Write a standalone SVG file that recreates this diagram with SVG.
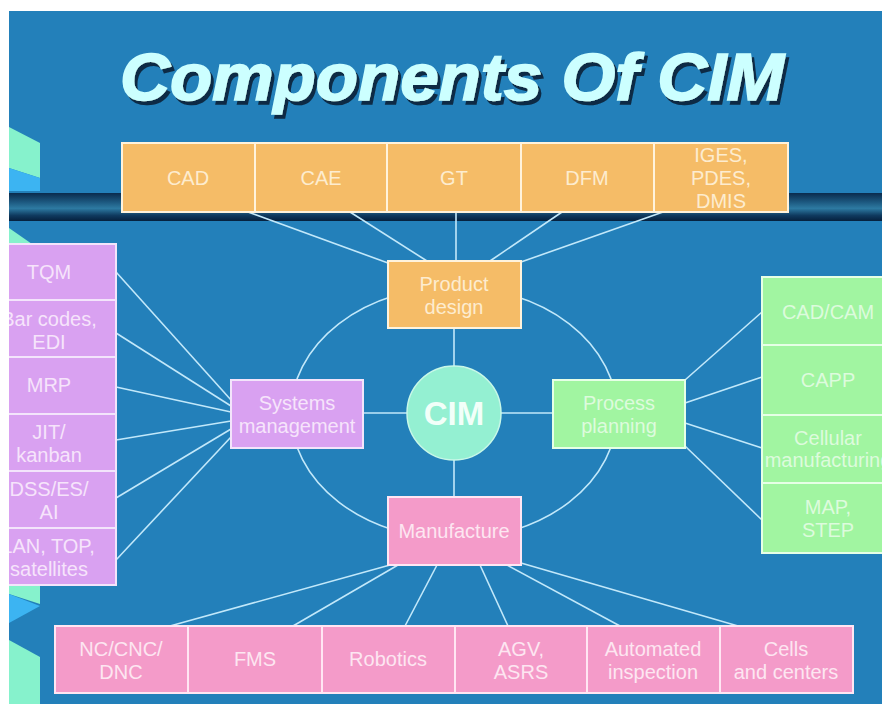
<svg xmlns="http://www.w3.org/2000/svg" width="882" height="704" viewBox="0 0 882 704">
<defs>
<linearGradient id="bar" x1="0" y1="0" x2="0" y2="1">
<stop offset="0" stop-color="#0a2b4d"/>
<stop offset="0.3" stop-color="#1b557c"/>
<stop offset="0.55" stop-color="#2d7aa2"/>
<stop offset="0.8" stop-color="#0f3a5f"/>
<stop offset="1" stop-color="#05203d"/>
</linearGradient>
<filter id="shadow" x="-5%" y="-20%" width="110%" height="150%">
<feDropShadow dx="3" dy="4" stdDeviation="0.6" flood-color="#0a2a45" flood-opacity="1"/>
</filter>
<style>
text{font-family:"Liberation Sans",Arial,sans-serif;font-size:20px;text-anchor:middle}
.title{font-size:66px;font-weight:bold;font-style:italic;fill:#ccffff;stroke:#ccffff;stroke-width:1.6;filter:url(#shadow)}
.cimt{font-size:33px;font-weight:bold;fill:#f2fff9}
.con{stroke:#c2e8fa;stroke-width:1.6;fill:none}
.or{fill:#f5bc67;stroke:#fff3dc;stroke-width:2}
.vi{fill:#d9a1f1;stroke:#f3e4fb;stroke-width:2}
.gr{fill:#a1f5a1;stroke:#e6ffe6;stroke-width:2}
.pk{fill:#f49bc9;stroke:#ffe6f3;stroke-width:2}
.tor{fill:#fdeccf}
.tvi{fill:#f6e4fb}
.tgr{fill:#ddfbdd}
.tpk{fill:#fde6f1}
.mint{fill:#86f2cc}
.lb{fill:#3cb4f2}
</style>
</defs>
<rect x="0" y="0" width="882" height="704" fill="#2380ba"/>
<g id="decor">
<polygon class="mint" points="9,127 40,143 40,178 9,168"/>
<polygon class="lb" points="9,168 40,178 40,191 9,191"/>
<polygon class="mint" points="9,228 32,244 9,244"/>
<polygon class="mint" points="9,585 40,585 40,604 9,594"/>
<polygon class="lb" points="9,594 40,606 9,623"/>
<polygon class="mint" points="9,640 40,657 40,704 9,704"/>
<rect x="9" y="193" width="873" height="28" fill="url(#bar)"/>
</g>
<g id="title">
<text class="title" x="452" y="100" textLength="664" lengthAdjust="spacingAndGlyphs">Components Of CIM</text>
</g>
<g id="connectors">
<ellipse class="con" cx="454" cy="413" rx="163" ry="126"/>
<line class="con" x1="454" y1="328" x2="454" y2="497"/>
<line class="con" x1="363" y1="413" x2="553" y2="413"/>
<line class="con" x1="248" y1="212" x2="388" y2="263"/>
<line class="con" x1="350" y1="212" x2="427" y2="261"/>
<line class="con" x1="456" y1="212" x2="456" y2="261"/>
<line class="con" x1="562" y1="212" x2="490" y2="261"/>
<line class="con" x1="663" y1="212" x2="521" y2="262"/>
<line class="con" x1="116" y1="272" x2="231" y2="400"/>
<line class="con" x1="116" y1="333" x2="231" y2="406"/>
<line class="con" x1="116" y1="387" x2="231" y2="412"/>
<line class="con" x1="116" y1="440" x2="231" y2="421"/>
<line class="con" x1="116" y1="498" x2="231" y2="429"/>
<line class="con" x1="116" y1="560" x2="231" y2="437"/>
<line class="con" x1="685" y1="380" x2="762" y2="312"/>
<line class="con" x1="685" y1="403" x2="762" y2="377"/>
<line class="con" x1="685" y1="423" x2="762" y2="448"/>
<line class="con" x1="685" y1="446" x2="762" y2="520"/>
<line class="con" x1="170" y1="626" x2="390" y2="565"/>
<line class="con" x1="293" y1="626" x2="398" y2="565"/>
<line class="con" x1="405" y1="626" x2="437" y2="565"/>
<line class="con" x1="508" y1="626" x2="480" y2="565"/>
<line class="con" x1="620" y1="626" x2="507" y2="565"/>
<line class="con" x1="738" y1="626" x2="521" y2="563"/>
</g>
<g id="cad"><rect class="or" x="122" y="143" width="133" height="69"/><text class="tor" x="188" y="185">CAD</text></g>
<g id="cae"><rect class="or" x="255" y="143" width="132" height="69"/><text class="tor" x="321" y="185">CAE</text></g>
<g id="gt"><rect class="or" x="387" y="143" width="134" height="69"/><text class="tor" x="454" y="185">GT</text></g>
<g id="dfm"><rect class="or" x="521" y="143" width="133" height="69"/><text class="tor" x="587" y="185">DFM</text></g>
<g id="iges"><rect class="or" x="654" y="143" width="134" height="69"/><text class="tor" x="721" y="162">IGES,</text><text class="tor" x="721" y="185">PDES,</text><text class="tor" x="721" y="208">DMIS</text></g>
<g id="tqm"><rect class="vi" x="-12" y="244" width="128" height="56"/><text class="tvi" x="49" y="279">TQM</text></g>
<g id="barcodes"><rect class="vi" x="-12" y="300" width="128" height="57"/><text class="tvi" x="49" y="326">Bar codes,</text><text class="tvi" x="49" y="349">EDI</text></g>
<g id="mrp"><rect class="vi" x="-12" y="357" width="128" height="57"/><text class="tvi" x="49" y="392">MRP</text></g>
<g id="jit"><rect class="vi" x="-12" y="414" width="128" height="57"/><text class="tvi" x="49" y="439">JIT/</text><text class="tvi" x="49" y="462">kanban</text></g>
<g id="dss"><rect class="vi" x="-12" y="471" width="128" height="57"/><text class="tvi" x="49" y="496">DSS/ES/</text><text class="tvi" x="49" y="519">AI</text></g>
<g id="lan"><rect class="vi" x="-12" y="528" width="128" height="57"/><text class="tvi" x="48" y="553">LAN, TOP,</text><text class="tvi" x="49" y="576">satellites</text></g>
<g id="cadcam"><rect class="gr" x="762" y="277" width="132" height="68"/><text class="tgr" x="828" y="319">CAD/CAM</text></g>
<g id="capp"><rect class="gr" x="762" y="345" width="132" height="70"/><text class="tgr" x="828" y="387">CAPP</text></g>
<g id="cellular"><rect class="gr" x="762" y="415" width="132" height="68"/><text class="tgr" x="828" y="445">Cellular</text><text class="tgr" x="828" y="467">manufacturing</text></g>
<g id="map"><rect class="gr" x="762" y="483" width="132" height="70"/><text class="tgr" x="828" y="514">MAP,</text><text class="tgr" x="828" y="537">STEP</text></g>
<g id="nc"><rect class="pk" x="55" y="626" width="133" height="67"/><text class="tpk" x="121" y="656">NC/CNC/</text><text class="tpk" x="121" y="679">DNC</text></g>
<g id="fms"><rect class="pk" x="188" y="626" width="134" height="67"/><text class="tpk" x="255" y="666">FMS</text></g>
<g id="robotics"><rect class="pk" x="322" y="626" width="133" height="67"/><text class="tpk" x="388" y="666">Robotics</text></g>
<g id="agv"><rect class="pk" x="455" y="626" width="132" height="67"/><text class="tpk" x="521" y="656">AGV,</text><text class="tpk" x="521" y="679">ASRS</text></g>
<g id="inspection"><rect class="pk" x="587" y="626" width="133" height="67"/><text class="tpk" x="653" y="656">Automated</text><text class="tpk" x="653" y="679">inspection</text></g>
<g id="cells"><rect class="pk" x="720" y="626" width="133" height="67"/><text class="tpk" x="786" y="656">Cells</text><text class="tpk" x="786" y="679">and centers</text></g>
<g id="product"><rect class="or" x="388" y="261" width="133" height="67"/><text class="tor" x="454" y="291">Product</text><text class="tor" x="454" y="314">design</text></g>
<g id="systems"><rect class="vi" x="231" y="380" width="132" height="68"/><text class="tvi" x="297" y="410">Systems</text><text class="tvi" x="297" y="433">management</text></g>
<g id="process"><rect class="gr" x="553" y="380" width="132" height="68"/><text class="tgr" x="619" y="410">Process</text><text class="tgr" x="619" y="433">planning</text></g>
<g id="manufacture"><rect class="pk" x="388" y="497" width="133" height="68"/><text class="tpk" x="454" y="538">Manufacture</text></g>
<g id="cim"><circle cx="454" cy="413" r="47" fill="#94f0d2" stroke="#c8f8e8" stroke-width="1.5"/><text class="cimt" x="454" y="425">CIM</text></g>
<g id="margin">
<rect x="0" y="0" width="882" height="11" fill="#ffffff"/>
<rect x="0" y="0" width="9" height="704" fill="#ffffff"/>
</g>
</svg>
